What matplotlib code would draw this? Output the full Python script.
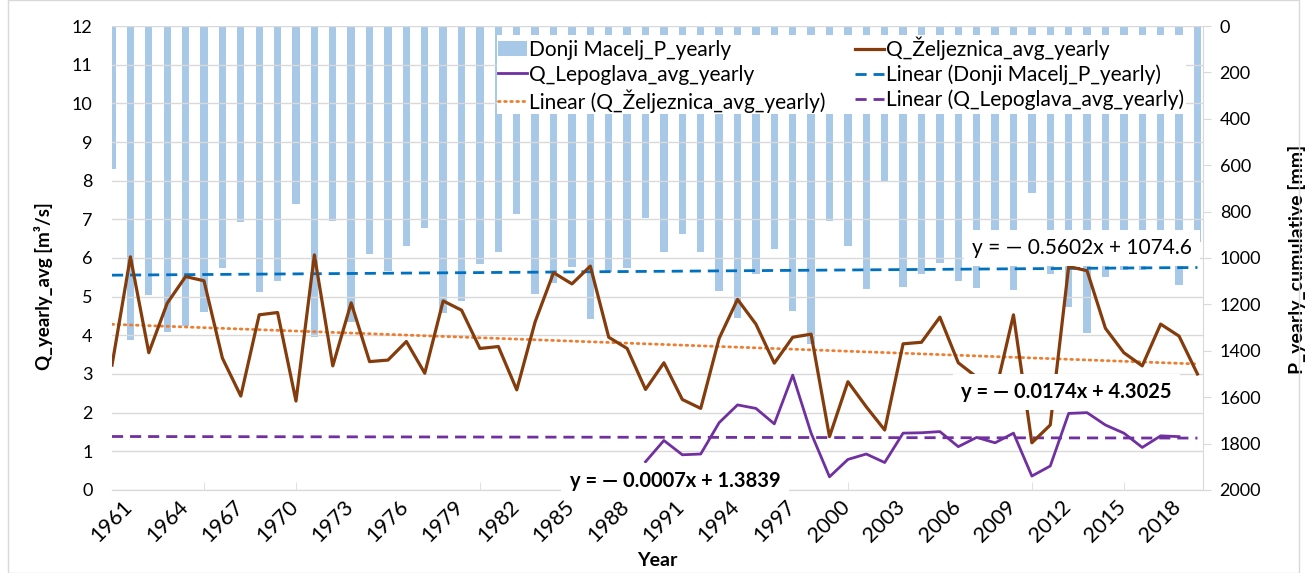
import numpy as np
import matplotlib
matplotlib.use("Agg")
import matplotlib.pyplot as plt
from matplotlib.patches import Rectangle
from matplotlib.transforms import ScaledTranslation

plt.rcParams['font.family'] = ['Lato', 'DejaVu Sans']

# yearly data 1961-2020
years = np.arange(1961, 2021)

p_donji_macelj = [618, 1353, 1159, 1318, 1293, 1231, 1045, 843, 1148, 1098,
                  769, 1342, 841, 1274, 984, 1055, 948, 869, 1236, 1185,
                  1027, 973, 812, 1155, 1109, 1040, 1263, 1059, 1045, 829,
                  973, 898, 973, 1141, 1260, 1069, 961, 1228, 1371, 841,
                  948, 1135, 668, 1124, 1069, 1023, 1099, 1131, 950, 1138,
                  718, 1070, 1211, 1324, 1080, 1050, 1050, 990, 1116, 930]

q_zeljeznica = [3.23, 6.03, 3.55, 4.83, 5.52, 5.41, 3.41, 2.43, 4.53, 4.59,
                2.30, 6.08, 3.21, 4.84, 3.32, 3.36, 3.84, 3.02, 4.89, 4.65,
                3.66, 3.71, 2.59, 4.35, 5.62, 5.33, 5.79, 3.95, 3.66, 2.60,
                3.29, 2.34, 2.11, 3.92, 4.93, 4.29, 3.28, 3.95, 4.03, 1.38,
                2.80, 2.15, 1.55, 3.78, 3.82, 4.47, 3.29, 2.92, 2.48, 4.53,
                1.22, 1.68, 5.78, 5.67, 4.18, 3.55, 3.21, 4.29, 3.98, 3.00]

# Lepoglava gauge: 1990-2019 only
q_lepoglava = [np.nan] * 29 + [
    0.73, 1.28, 0.91, 0.93, 1.74, 2.20, 2.11, 1.71, 2.97, 1.47,
    0.34, 0.79, 0.93, 0.71, 1.47, 1.48, 1.51, 1.12, 1.36, 1.22,
    1.47, 0.36, 0.62, 1.98, 2.00, 1.68, 1.47, 1.10, 1.40, 1.38] + [np.nan]

# linear trends (x = running index 1..60)
trend_p = (-0.5602, 1074.6)
trend_zelj = (-0.0174, 4.3025)
trend_lepo = (-0.0007, 1.3839)

x_labels = list(range(1961, 2019, 3))
x_marks = list(range(1961, 2021, 5))

idx = np.arange(1, len(years) + 1)

c_bar = '#a7c8e6'
c_zelj = '#843c0c'
c_lepo = '#7030a0'
c_tp = '#0070c0'
c_tz = '#ed7d31'
grid_c = '#d9d9d9'

fig = plt.figure(figsize=(13.07, 5.73), dpi=100)
ax = fig.add_axes([0.0857, 0.1449, 0.9204 - 0.0857, 0.9546 - 0.1449])
ax2 = ax.twinx()
ax.set_zorder(ax2.get_zorder() + 1)
ax.patch.set_visible(False)

# precipitation bars hang from the top of the inverted right axis
bars = ax2.bar(years, p_donji_macelj, width=0.4, color=c_bar, zorder=1,
               label='Donji Macelj_P_yearly')
lp, = ax2.plot(years, trend_p[0] * idx + trend_p[1], color=c_tp, lw=2,
               dashes=(4, 2.5), label='Linear (Donji Macelj_P_yearly)', zorder=3)
ax2.set_ylim(2000, 0)
ax2.set_yticks(range(0, 2001, 200))

lz, = ax.plot(years, q_zeljeznica, color=c_zelj, lw=2.3, zorder=4,
              label='Q_Željeznica_avg_yearly')
ll, = ax.plot(years, q_lepoglava, color=c_lepo, lw=2, zorder=4,
              label='Q_Lepoglava_avg_yearly')
ltz, = ax.plot(years, trend_zelj[0] * idx + trend_zelj[1], color=c_tz, lw=2,
               linestyle=(0, (0.6, 1.6)), dash_capstyle='round', zorder=3,
               label='Linear (Q_Željeznica_avg_yearly)')
ltl, = ax.plot(years, trend_lepo[0] * idx + trend_lepo[1], color=c_lepo, lw=2,
               dashes=(4, 2.5), zorder=3,
               label='Linear (Q_Lepoglava_avg_yearly)')

ax.set_xlim(1961, 2020.3)
ax.set_ylim(0, 12)
ax.set_yticks(range(0, 13))
ax.grid(axis='y', color=grid_c, lw=1, zorder=0)
ax.set_axisbelow(True)

ax.set_xticks(x_labels)
ax.set_xticklabels([str(y) for y in x_labels], rotation=45, ha='center')
shift = ScaledTranslation(5 / 100, 0, fig.dpi_scale_trans)
for lab in ax.get_xticklabels():
    lab.set_transform(lab.get_transform() + shift)
ax.set_xticks(x_marks, minor=True)
ax.tick_params(axis='x', which='major', length=0, labelsize=15.5, pad=5)
ax.tick_params(axis='x', which='minor', direction='in', length=6, color=grid_c)
ax.tick_params(axis='y', length=0, labelsize=13, pad=14)
ax2.tick_params(axis='y', length=6, color=grid_c, labelsize=13, pad=6)

for a in (ax, ax2):
    for s in ('top', 'left'):
        a.spines[s].set_visible(False)
    a.spines['bottom'].set_color(grid_c)
    a.spines['right'].set_color(grid_c)
ax.spines['right'].set_visible(False)

ax.set_xlabel('Year', fontsize=14, fontweight='bold', labelpad=4)
ax.set_ylabel('Q_yearly_avg [m³/s]', fontsize=13.5, fontweight='bold')
ax.yaxis.set_label_coords(-0.054, 0.44)
ax2.set_ylabel('P_yearly_cumulative [mm]', fontsize=14, fontweight='bold')
ax2.yaxis.set_label_coords(1.078, 0.496)

handles = [bars, ll, ltz, lz, lp, ltl]
leg = ax.legend(handles=handles, labels=[h.get_label() for h in handles],
                ncol=2, loc='upper right',
                bbox_to_anchor=(1196 / 1307, 1 - 25 / 573),
                bbox_transform=fig.transFigure, fontsize=15,
                frameon=True, fancybox=False, framealpha=1, edgecolor='none',
                handlelength=1.4, handletextpad=0.1, columnspacing=1.4,
                labelspacing=0.22, borderpad=0.05)
leg.set_zorder(20)

box = dict(facecolor='white', edgecolor='none', pad=6)
ax.text(0.889, 0.5216, 'y = — 0.5602x + 1074.6', transform=ax.transAxes,
        ha='center', va='center', fontsize=15, bbox=box, zorder=15)
ax.text(0.875, 0.211, 'y = — 0.0174x + 4.3025', transform=ax.transAxes,
        ha='center', va='center', fontsize=14.5, fontweight='bold', bbox=box,
        zorder=15)
ax.text(0.516, 0.019, 'y = — 0.0007x + 1.3839', transform=ax.transAxes,
        ha='center', va='center', fontsize=14.5, fontweight='bold', bbox=box,
        zorder=15, clip_on=False)

fig.patches.append(Rectangle((8 / 1307, 0), 1 - 16 / 1307, 1, transform=fig.transFigure,
                             fill=False, edgecolor=grid_c, lw=1))

fig.savefig('out.png', dpi=100)
